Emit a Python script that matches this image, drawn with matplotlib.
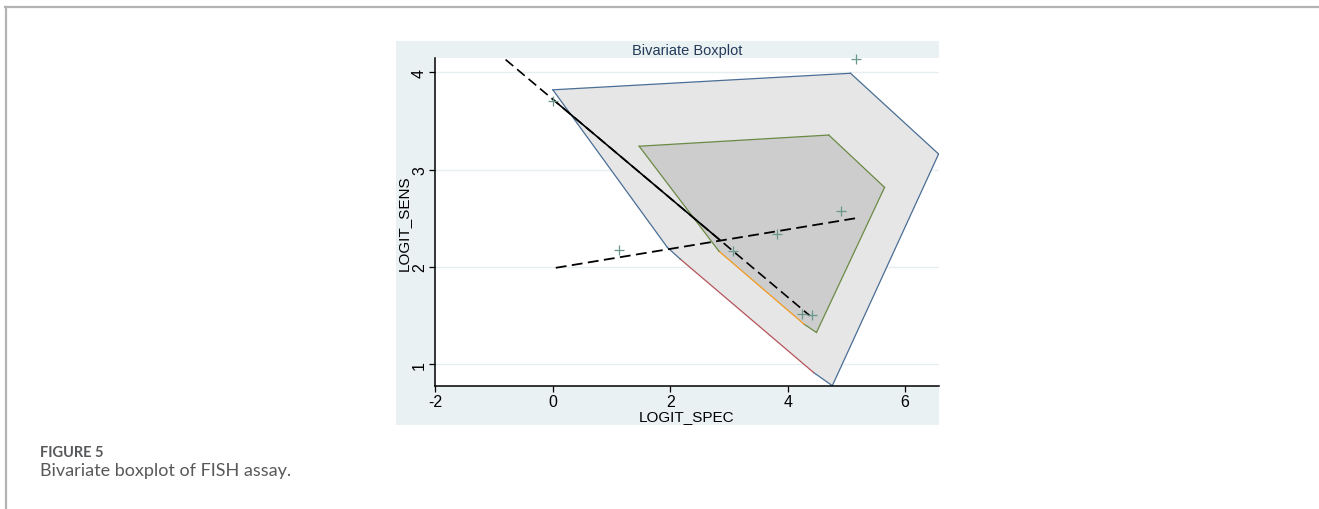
import matplotlib
matplotlib.use("Agg")
import matplotlib.pyplot as plt
from matplotlib.patches import Polygon, Rectangle
from matplotlib.lines import Line2D

# ---- data ----
spec = [5.17, 0.01, 1.12, 3.07, 3.82, 4.91, 4.25, 4.42]
sens = [4.14, 3.71, 2.17, 2.16, 2.34, 2.57, 1.52, 1.50]

fence_x = [0.00, 5.07, 6.57, 4.76, 4.44, 2.17, 1.95]
fence_y = [3.82, 3.99, 3.16, 0.778, 0.914, 2.08, 2.20]
fence_red = [4, 5]          # edge drawn in red (between these vertices)

hinge_x = [1.47, 4.70, 5.65, 4.49, 4.28, 2.83]
hinge_y = [3.24, 3.355, 2.817, 1.325, 1.41, 2.16]
hinge_orange = [4, 5]       # edge drawn in orange

reg1_x = [-1.00, 4.38]      # steep regression line (dashed extent)
reg1_y = [4.23, 1.496]
reg1_solid_x = [0.0, 2.85]  # solid part of it
reg2_x = [0.05, 5.16]
reg2_y = [1.99, 2.50]

xticks = [-2, 0, 2, 4, 6]
yticks = [1, 2, 3, 4]
xlim = (-2, 6.57)
ylim = (0.778, 4.144)

title = "Bivariate Boxplot"
xlabel = "LOGIT_SPEC"
ylabel = "LOGIT_SENS"
fig_label = "FIGURE 5"
caption = "Bivariate boxplot of FISH assay."

# ---- figure ----
plt.rcParams["font.family"] = ["Liberation Sans", "DejaVu Sans"]
plt.rcParams["axes.unicode_minus"] = False
W, H = 1319, 510
fig = plt.figure(figsize=(W / 100, H / 100), dpi=100)
fig.patch.set_facecolor("white")

def fx(px):
    return px / W

def fy(py):
    return 1 - py / H

# page frame lines
fig.add_artist(Line2D([fx(5), 1.0], [fy(8), fy(8)], color="#b3b3b3", lw=1.6))
fig.add_artist(Line2D([fx(6), fx(6)], [fy(8), 0.0], color="#b3b3b3", lw=1.6))

# stata panel background
bg = "#eaf1f3"
fig.add_artist(Rectangle((fx(396), fy(426)), fx(938.6) - fx(396), fy(41.7) - fy(426),
                         transform=fig.transFigure, facecolor=bg, edgecolor="none", zorder=0))

ax = fig.add_axes([fx(435.4), fy(386.7), fx(938.6) - fx(435.4), fy(59.3) - fy(386.7)])
ax.set_facecolor("white")
ax.set_xlim(*xlim)
ax.set_ylim(*ylim)

# grid
for yv in yticks:
    ax.axhline(yv, color="#e6eef0", lw=1.0, zorder=0.5)

blue = "#4a6e96"
red = "#b5545a"
green = "#6b8a45"
orange = "#f09a1e"

# fence polygon
ax.add_patch(Polygon(list(zip(fence_x, fence_y)), closed=True, facecolor="#e6e6e6",
                     edgecolor="none", zorder=1))
n = len(fence_x)
for i in range(n):
    j = (i + 1) % n
    c = red if [i, j] == fence_red else blue
    ax.plot([fence_x[i], fence_x[j]], [fence_y[i], fence_y[j]], color=c, lw=0.9, zorder=2)

# hinge polygon
ax.add_patch(Polygon(list(zip(hinge_x, hinge_y)), closed=True, facecolor="#cdcdcd",
                     edgecolor="none", zorder=3))
n = len(hinge_x)
for i in range(n):
    j = (i + 1) % n
    c = orange if [i, j] == hinge_orange else green
    ax.plot([hinge_x[i], hinge_x[j]], [hinge_y[i], hinge_y[j]], color=c, lw=0.9, zorder=4)

# regression lines
slope1 = (reg1_y[1] - reg1_y[0]) / (reg1_x[1] - reg1_x[0])
ax.plot(reg1_x, reg1_y, color="black", lw=1.2, ls=(0, (6, 3)), zorder=5)
ax.plot(reg1_solid_x, [reg1_y[0] + slope1 * (x - reg1_x[0]) for x in reg1_solid_x],
        color="black", lw=1.2, zorder=5)
ax.plot(reg2_x, reg2_y, color="black", lw=1.3, ls=(0, (6, 3)), zorder=5)

# points
ax.scatter(spec, sens, marker="+", s=45, color="#6a978c", linewidths=0.9, zorder=6, clip_on=False)

# axes styling
for s in ["top", "right"]:
    ax.spines[s].set_visible(False)
for s in ["left", "bottom"]:
    ax.spines[s].set_color("black")
    ax.spines[s].set_linewidth(1.1)
ax.set_xticks(xticks)
ax.set_yticks(yticks)
ax.tick_params(axis="both", length=4.5, width=0.9, labelsize=11.5, color="black", pad=1.5)
ax.tick_params(axis="y", labelrotation=90)
for lab in ax.get_yticklabels():
    lab.set_va("center")
ax.set_xlabel(xlabel, fontsize=11, labelpad=0)
ax.set_ylabel(ylabel, fontsize=11, labelpad=1)

# title band
fig.text(fx(687), fy(50.5), title, ha="center", va="center", fontsize=10.5, color="#233a58")

# caption
fig.text(fx(40), fy(453), fig_label, ha="left", va="center", fontsize=10.5,
         color="#58595b", family=["Lato", "DejaVu Sans"], fontweight="bold")
fig.text(fx(40), fy(471), caption, ha="left", va="center", fontsize=13,
         color="#58595b", family=["Lato", "DejaVu Sans"])

fig.savefig("out.png", dpi=100)
